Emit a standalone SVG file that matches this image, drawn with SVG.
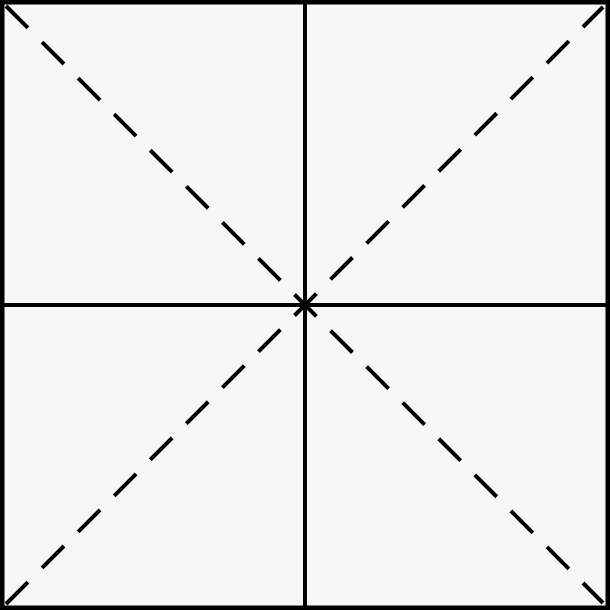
<svg xmlns="http://www.w3.org/2000/svg" width="610" height="610" viewBox="0 0 610 610">
<style>
.solid{stroke:#000;stroke-width:4;fill:none}
.dash{stroke:#000;stroke-width:4;fill:none;stroke-dasharray:31 20}
</style>
<rect x="0" y="0" width="610" height="610" fill="#ffffff"/>
<g id="frame">
<rect x="2.25" y="2.25" width="605.5" height="605.5" fill="#f7f7f7" stroke="#000" stroke-width="4.5"/>
</g>
<g id="connectors">
<line class="solid" x1="305" y1="2" x2="305" y2="608"/>
<line class="solid" x1="2" y1="305" x2="608" y2="305"/>
<line class="dash" x1="6" y1="6" x2="603" y2="603"/>
<line class="dash" x1="6" y1="604" x2="603" y2="7"/>
</g>
</svg>
